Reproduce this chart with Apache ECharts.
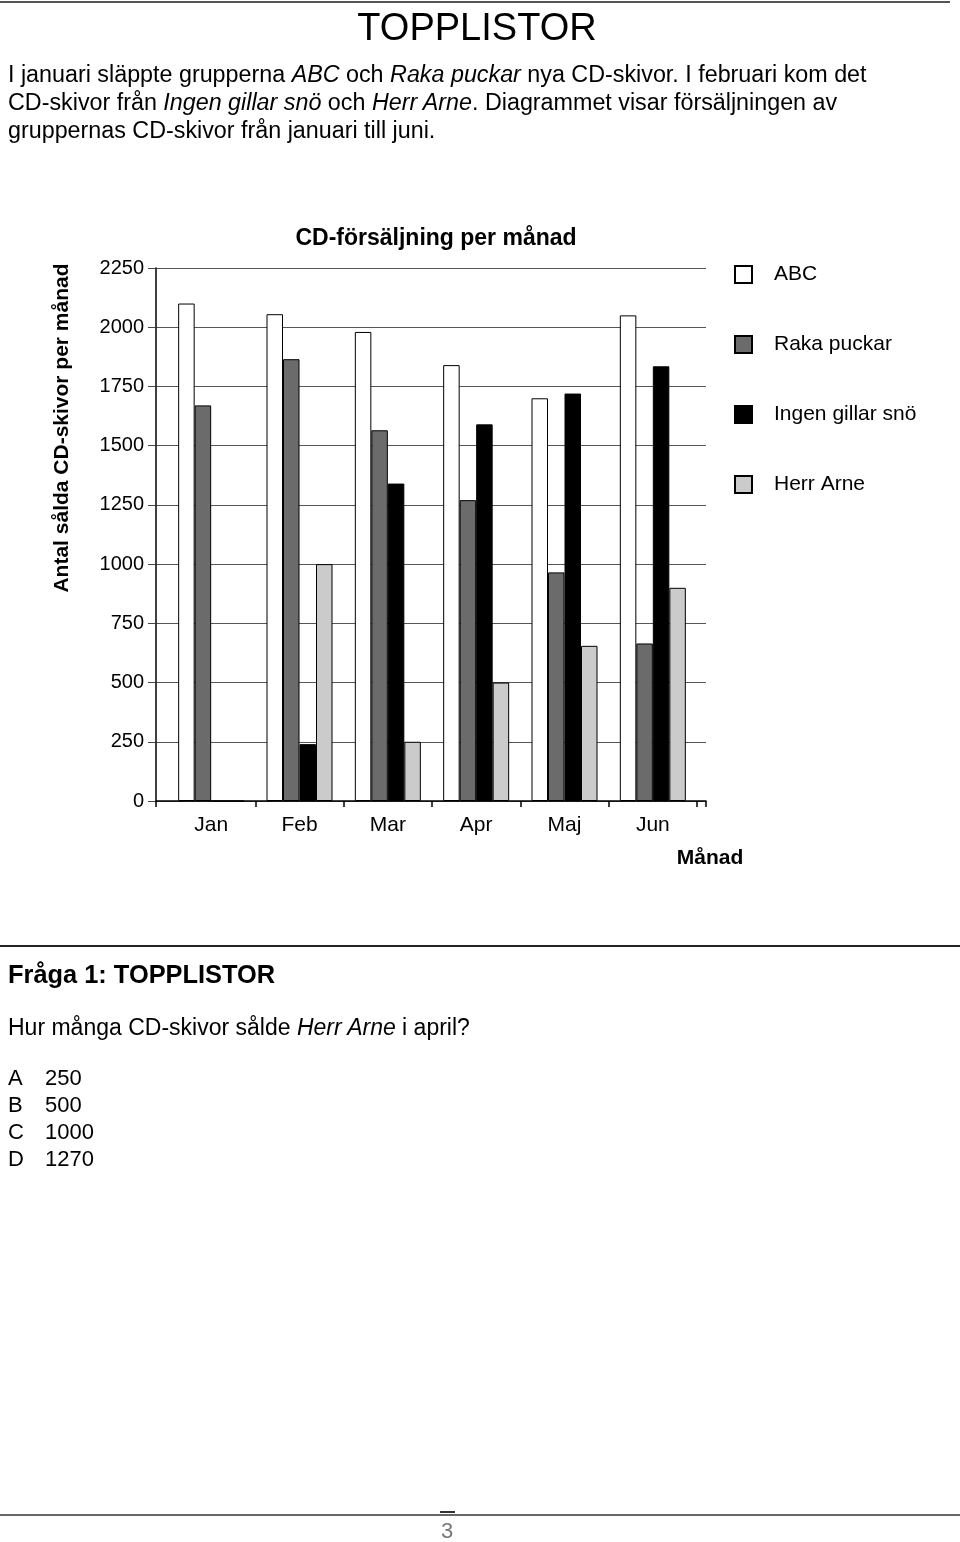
<!DOCTYPE html>
<html>
<head>
<meta charset="utf-8">
<script src="https://cdn.jsdelivr.net/npm/echarts@6/dist/echarts.min.js"></script>
<style>
  html, body { margin: 0; padding: 0; background: #fff; }
  #page { position: relative; width: 960px; height: 1542px; overflow: hidden; font-family: 'Liberation Sans', Arial, sans-serif; color: #000; }
  #chart { position: absolute; left: 0; top: 0; width: 960px; height: 1542px; }
  .abs { position: absolute; white-space: nowrap; }
  .rule { position: absolute; height: 2px; background: #444; }
</style>
</head>
<body>
<div id="page">
  <div id="chart"></div>
  <div class="rule" style="left:0; top:1px; width:950px; background:#555;"></div>
  <div class="abs" style="left:0; width:954px; text-align:center; top:2px; font-size:38px; line-height:50px;">TOPPLISTOR</div>
  <div class="abs" style="left:8px; top:60px; font-size:23.3px; line-height:28px;">
    I januari släppte grupperna <i>ABC</i> och <i>Raka puckar</i> nya CD-skivor. I februari kom det<br>
    CD-skivor från <i>Ingen gillar snö</i> och <i>Herr Arne</i>. Diagrammet visar försäljningen av<br>
    gruppernas CD-skivor från januari till juni.
  </div>
  <div class="rule" style="left:0; top:945px; width:960px; background:#222;"></div>
  <div class="abs" style="left:8px; top:959px; font-size:25.4px; line-height:30px; font-weight:bold;">Fråga 1: TOPPLISTOR</div>
  <div class="abs" style="left:8px; top:1014px; font-size:23px; line-height:26px;">Hur många CD-skivor sålde <i>Herr Arne</i> i april?</div>
  <div class="abs" style="left:8px; top:1064px; font-size:22px; line-height:27px;">
    <span style="display:inline-block;width:37px;">A</span>250<br>
    <span style="display:inline-block;width:37px;">B</span>500<br>
    <span style="display:inline-block;width:37px;">C</span>1000<br>
    <span style="display:inline-block;width:37px;">D</span>1270
  </div>
  <div class="rule" style="left:0; top:1514px; width:960px; background:#666;"></div>
  <div class="rule" style="left:440px; top:1511px; width:15px; height:2px; background:#333;"></div>
  <div class="abs" style="left:441px; top:1518px; font-size:22px; line-height:26px; color:#777;">3</div>
</div>
<script>
// ---- data ----
var months = ['Jan', 'Feb', 'Mar', 'Apr', 'Maj', 'Jun'];
var abc = [2100, 2055, 1980, 1840, 1700, 2050];
var rakaPuckar = [1670, 1865, 1565, 1270, 965, 665];
var ingenGillarSno = [0, 240, 1340, 1590, 1720, 1835];
var herrArne = [0, 1000, 250, 500, 655, 900];
var seriesNames = ['ABC', 'Raka puckar', 'Ingen gillar snö', 'Herr Arne'];
var yMin = 0, yMax = 2250, yStep = 250;

var FONT = "'Liberation Sans', Arial, sans-serif";
var chart = echarts.init(document.getElementById('chart'), null, { renderer: 'canvas' });

function barSeries(name, values, color) {
  return {
    name: name, type: 'bar', xAxisIndex: 1, yAxisIndex: 1,
    data: values, barWidth: 16.5, barGap: '0%',
    itemStyle: { color: color, borderColor: '#000', borderWidth: 1 },
    emphasis: { disabled: true }, animation: false
  };
}

var option = {
  animation: false,
  textStyle: { fontFamily: FONT },
  grid: [
    { left: 156, right: 254, top: 268, bottom: 741, containLabel: false },
    { left: 167, right: 263, top: 268, bottom: 741, containLabel: false }
  ],
  xAxis: [
    {
      type: 'value', gridIndex: 0, min: 0, max: 1, interval: 1,
      axisLine: { show: true, onZero: false, lineStyle: { color: '#000', width: 1.5 } },
      axisTick: { show: true, length: 6, lineStyle: { color: '#000', width: 1.5 } },
      axisLabel: { show: false }, splitLine: { show: false }
    },
    {
      type: 'category', gridIndex: 1, data: months, boundaryGap: true,
      axisLine: { show: false },
      axisTick: { show: true, length: 6, interval: function (i) { return i > 0; }, lineStyle: { color: '#000', width: 1.5 } },
      axisLabel: { color: '#000', fontSize: 21, margin: 14, fontFamily: FONT }
    }
  ],
  yAxis: [
    {
      type: 'value', gridIndex: 0, min: yMin, max: yMax, interval: yStep,
      axisLine: { show: true, onZero: false, lineStyle: { color: '#000', width: 1.5 } },
      axisTick: { show: true, length: 8, lineStyle: { color: '#444' } },
      axisLabel: { color: '#000', fontSize: 20, margin: 12, fontFamily: FONT, formatter: function (v) { return String(v); } },
      splitLine: { show: true, lineStyle: { color: '#555', width: 1 } }
    },
    {
      type: 'value', gridIndex: 1, min: yMin, max: yMax, interval: yStep, show: false,
      splitLine: { show: false }
    }
  ],
  legend: {
    orient: 'vertical', left: 734, top: 264, padding: 0, itemWidth: 17, itemHeight: 17, itemGap: 49,
    icon: 'rect', data: seriesNames, selectedMode: false,
    textStyle: { color: '#000', fontSize: 21, fontFamily: FONT, lineHeight: 21, padding: [0, 0, 0, 17] }
  },
  series: [
    barSeries(seriesNames[0], abc, '#ffffff'),
    barSeries(seriesNames[1], rakaPuckar, '#6b6b6b'),
    barSeries(seriesNames[2], ingenGillarSno, '#000000'),
    barSeries(seriesNames[3], herrArne, '#cbcbcb')
  ],
  graphic: [
    { type: 'text', style: { x: 436, y: 239, text: 'CD-försäljning per månad', align: 'center', verticalAlign: 'middle', font: 'bold 23px ' + FONT, fill: '#000' } },
    { type: 'text', x: 62, y: 428, rotation: Math.PI / 2, style: { x: 0, y: 0, text: 'Antal sålda CD-skivor per månad', align: 'center', verticalAlign: 'middle', font: 'bold 21px ' + FONT, fill: '#000' } },
    { type: 'text', style: { x: 710, y: 858, text: 'Månad', align: 'center', verticalAlign: 'middle', font: 'bold 21px ' + FONT, fill: '#000' } }
  ]
};
chart.setOption(option);
</script>
</body>
</html>
